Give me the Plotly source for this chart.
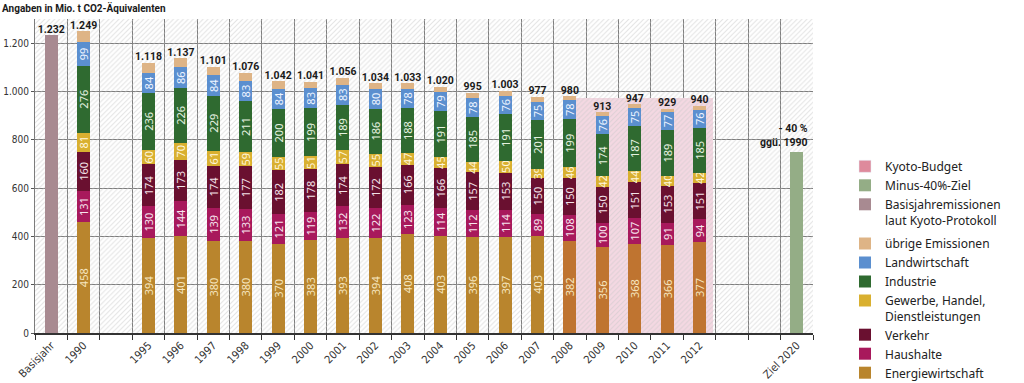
import plotly.graph_objects as go

# ---------------- data ----------------
slot_labels = ['Basisjahr', '1990', '', '1995', '1996', '1997', '1998', '1999', '2000',
               '2001', '2002', '2003', '2004', '2005', '2006', '2007', '2008', '2009',
               '2010', '2011', '2012', '', '', 'Ziel 2020']
years = ['1990', '1995', '1996', '1997', '1998', '1999', '2000', '2001', '2002', '2003',
         '2004', '2005', '2006', '2007', '2008', '2009', '2010', '2011', '2012']

energiewirtschaft = [458, 394, 401, 380, 380, 370, 383, 393, 394, 408, 403, 396, 397, 403, 382, 356, 368, 366, 377]
haushalte = [131, 130, 144, 139, 133, 121, 119, 132, 122, 123, 114, 112, 114, 89, 108, 100, 107, 91, 94]
verkehr = [160, 174, 173, 174, 177, 182, 178, 174, 172, 166, 166, 157, 153, 150, 150, 150, 151, 153, 151]
gewerbe = [81, 60, 70, 61, 59, 55, 51, 57, 55, 47, 45, 44, 50, 39, 46, 42, 44, 40, 42]
industrie = [276, 236, 226, 229, 211, 200, 199, 189, 186, 188, 191, 185, 191, 201, 199, 174, 187, 189, 185]
landwirtschaft = [99, 84, 86, 84, 83, 84, 83, 83, 80, 78, 79, 78, 76, 75, 78, 76, 75, 77, 76]
uebrige = [44, 40, 37, 34, 33, 30, 28, 28, 25, 23, 22, 23, 22, 20, 17, 15, 15, 13, 15]
totals = [1249, 1118, 1137, 1101, 1076, 1042, 1041, 1056, 1034, 1033, 1020, 995, 1003, 977, 980, 913, 947, 929, 940]

basisjahr_value = 1232
ziel_2020_value = 750
kyoto_budget = 973
kyoto_period = ['2008', '2009', '2010', '2011', '2012']
y_ticks = [0, 200, 400, 600, 800, 1000, 1200]

# ---------------- style ----------------
BOLD = "Roboto, Liberation Sans, sans-serif"
TICK = "DejaVu Sans Condensed, Roboto, sans-serif"
SANS = "Noto Sans, Open Sans, sans-serif"
GRID = '#7c7c7c'

pos = {lab: i for i, lab in enumerate(slot_labels) if lab}
xs = [pos[y] for y in years]
n_slots = len(slot_labels)
BW = 0.4

energie_colors = ['#bf7430' if y in kyoto_period else '#b9852d' for y in years]

fig = go.Figure()

# Kyoto budget region (base axes)
k0 = pos[kyoto_period[0]] + 0.2
k1 = pos[kyoto_period[-1]] + 0.4
fig.add_trace(go.Bar(x=[(k0 + k1) / 2], y=[kyoto_budget], width=[k1 - k0], base=0,
                     marker=dict(color='#f4d8e2', line=dict(width=0)),
                     showlegend=False, hoverinfo='skip', xaxis='x', yaxis='y'))

# hatched background (base axes)
fig.add_trace(go.Scatter(x=[-0.5, n_slots - 0.5, n_slots - 0.5, -0.5, -0.5],
                         y=[0, 0, 1300, 1300, 0], mode='none', fill='toself',
                         fillcolor='rgba(0,0,0,0)',
                         fillpattern=dict(shape='/', fgcolor='#c8c8c8', bgcolor='rgba(0,0,0,0)',
                                          size=3.5, solidity=0.3),
                         showlegend=False, hoverinfo='skip', xaxis='x', yaxis='y'))

# legend-only Kyoto entry
fig.add_trace(go.Bar(x=[None], y=[None], name='Kyoto-Budget', marker_color='#de8a9c',
                     legendgroup='a', legendrank=1, xaxis='x2', yaxis='y2'))

fig.add_trace(go.Bar(x=[pos['Ziel 2020']], y=[ziel_2020_value], width=BW, name='Minus-40%-Ziel',
                     marker=dict(color='#94ad86', line=dict(width=0)),
                     legendgroup='a', legendrank=2, xaxis='x2', yaxis='y2'))
fig.add_trace(go.Bar(x=[pos['Basisjahr']], y=[basisjahr_value], width=BW,
                     name='Basisjahremissionen<br>laut Kyoto-Protokoll',
                     marker=dict(color='#a88a91', line=dict(width=0)),
                     legendgroup='a', legendrank=3, xaxis='x2', yaxis='y2'))

series = [
    ('Energiewirtschaft', energiewirtschaft, energie_colors, '#f6e6bf', 16, True),
    ('Haushalte', haushalte, '#a8195c', '#f7e4ee', 15, True),
    ('Verkehr', verkehr, '#6a1030', '#f3e2e8', 14, True),
    ('Gewerbe, Handel,<br>Dienstleistungen', gewerbe, '#d9b030', '#fff6dc', 13, True),
    ('Industrie', industrie, '#2f6a30', '#e6f2e0', 12, True),
    ('Landwirtschaft', landwirtschaft, '#5b8fcf', '#eef4ff', 11, True),
    ('übrige Emissionen', uebrige, '#deb486', '#ffffff', 10, False),
]
for name, vals, col, tcol, rank, lab in series:
    fig.add_trace(go.Bar(
        x=xs, y=vals, width=BW, name=name,
        marker=dict(color=col, line=dict(width=0)),
        text=[str(v) for v in vals] if lab else None,
        textposition='inside' if lab else 'none',
        insidetextanchor='middle', textangle=-90, constraintext='none',
        textfont=dict(family=SANS, size=11, color=tcol),
        legendgroup='b', legendrank=rank, xaxis='x2', yaxis='y2'))

# totals
fig.add_trace(go.Scatter(
    x=[pos['Basisjahr']] + xs, y=[basisjahr_value] + totals, mode='text',
    texttemplate='%{y:,.0f}', textposition='top center',
    textfont=dict(family=BOLD, size=10.5, color='#1a1a1a', weight='bold'),
    showlegend=False, hoverinfo='skip', xaxis='x2', yaxis='y2'))

fig.add_annotation(x=pos['Ziel 2020'] + 0.42, y=ziel_2020_value, xref='x2', yref='y2',
                   text='- 40 %<br>ggü. 1990', showarrow=False, xanchor='right', yanchor='bottom',
                   align='right', yshift=1,
                   font=dict(family=BOLD, size=10.5, color='#1a1a1a', weight='bold'))

xr = [-0.5, n_slots - 0.5]
yr = [0, 1300]
fig.update_layout(
    width=1024, height=383,
    margin=dict(l=35, r=211, t=19, b=50, autoexpand=False),
    paper_bgcolor='white', plot_bgcolor='white',
    barmode='stack', separators=',.',
    title=dict(text='<b>Angaben in Mio. t CO2-Äquivalenten</b>', x=0.002, xanchor='left',
               xref='container', y=1 - 8 / 383, yref='container', yanchor='middle',
               font=dict(family=BOLD, size=10, color='#1a1a1a')),
    xaxis=dict(range=xr, tickmode='array', tickvals=list(pos.values()), ticktext=list(pos.keys()),
               tickangle=-45, ticks='', showgrid=False, zeroline=False, automargin=False,
               showline=True, linecolor='#333333', linewidth=1.5,
               tickfont=dict(family=TICK, size=11, color='#333333'),
               minor=dict(tickmode='array', tickvals=[i - 0.5 for i in range(n_slots + 1)],
                          ticks='outside', ticklen=5, tickcolor='#333333', tickwidth=1,
                          showgrid=True, gridcolor=GRID, gridwidth=1)),
    yaxis=dict(range=yr, tickmode='array', tickvals=y_ticks, tickformat=',d',
               ticks='outside', ticklen=3, tickcolor='#555555', automargin=False,
               showgrid=True, gridcolor=GRID, gridwidth=1, zeroline=False,
               showline=True, linecolor=GRID,
               tickfont=dict(family=TICK, size=10, color='#333333')),
    xaxis2=dict(range=xr, overlaying='x', visible=False, matches='x', automargin=False),
    yaxis2=dict(range=yr, overlaying='y', visible=False, matches='y', automargin=False),
    legend=dict(x=(845 - 35) / 778, xanchor='left', xref='paper',
                y=(333 - 152) / 314, yanchor='top', yref='paper',
                traceorder='grouped', tracegroupgap=5, valign='top',
                font=dict(family=SANS, size=12, color='#222222'),
                bgcolor='rgba(0,0,0,0)'),
)

fig.write_html("out.html", config={'displayModeBar': False},
               post_script="document.body.style.margin='0';document.body.style.overflow='hidden';")
